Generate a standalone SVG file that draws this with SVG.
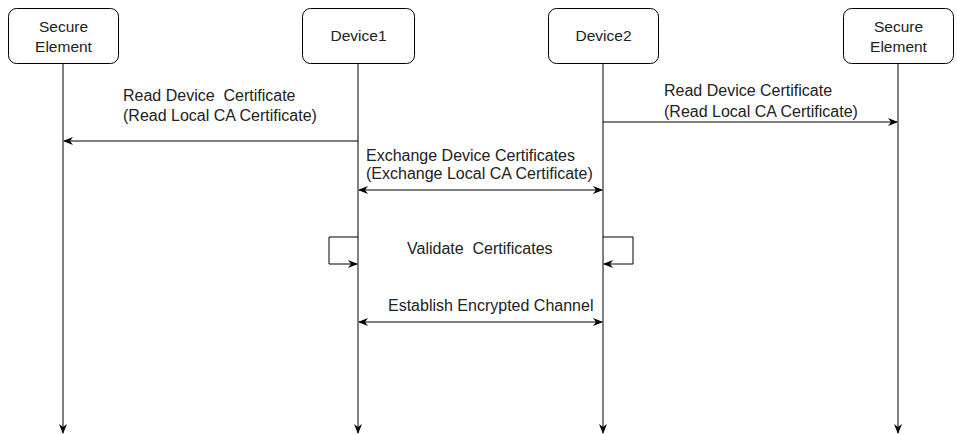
<svg xmlns="http://www.w3.org/2000/svg" width="957" height="435" viewBox="0 0 957 435">
<defs>
<marker id="arr" viewBox="0 0 10 8" refX="9" refY="4" markerWidth="10" markerHeight="8" markerUnits="userSpaceOnUse" orient="auto-start-reverse">
<path d="M0,0 L10,4 L0,8 L3,4 z" fill="#000"/>
</marker>
</defs>
<style>
.box{fill:#fff;stroke:#000;stroke-width:1}
.t{font-family:"Liberation Sans",Arial,sans-serif;font-size:16px;fill:#222}
.b{font-size:15.5px}
.c{text-anchor:middle}
.ln{fill:none;stroke:#000;stroke-width:1}
</style>
<rect width="957" height="435" fill="#fff"/>
<g id="connectors">
<line class="ln" x1="63" y1="63" x2="63" y2="433" marker-end="url(#arr)"/>
<line class="ln" x1="358" y1="63" x2="358" y2="433" marker-end="url(#arr)"/>
<line class="ln" x1="603" y1="63" x2="603" y2="433" marker-end="url(#arr)"/>
<line class="ln" x1="898" y1="63" x2="898" y2="433" marker-end="url(#arr)"/>
<line class="ln" x1="358" y1="141" x2="64" y2="141" marker-end="url(#arr)"/>
<line class="ln" x1="603" y1="122" x2="897" y2="122" marker-end="url(#arr)"/>
<line class="ln" x1="359" y1="190" x2="602" y2="190" marker-start="url(#arr)" marker-end="url(#arr)"/>
<polyline class="ln" points="358,237 329,237 329,264 357,264" marker-end="url(#arr)"/>
<polyline class="ln" points="603,237 633,237 633,264 604,264" marker-end="url(#arr)"/>
<line class="ln" x1="359" y1="322" x2="602" y2="322" marker-start="url(#arr)" marker-end="url(#arr)"/>
</g>
<g id="se1"><rect class="box" x="8.5" y="8.5" width="110" height="55" rx="8"/><text class="t b c" x="63.5" y="32">Secure</text><text class="t b c" x="63.5" y="52">Element</text></g>
<g id="device1"><rect class="box" x="302.5" y="8.5" width="112" height="55" rx="8"/><text class="t b c" x="358.5" y="41">Device1</text></g>
<g id="device2"><rect class="box" x="548.5" y="8.5" width="110" height="55" rx="8"/><text class="t b c" x="603.5" y="41">Device2</text></g>
<g id="se2"><rect class="box" x="843.5" y="8.5" width="110" height="55" rx="8"/><text class="t b c" x="898.5" y="32">Secure</text><text class="t b c" x="898.5" y="52">Element</text></g>
<g id="labels">
<text class="t" x="123" y="101" xml:space="preserve">Read Device  Certificate</text>
<text class="t" x="123" y="121">(Read Local CA Certificate)</text>
<text class="t" x="664" y="96">Read Device Certificate</text>
<text class="t" x="664" y="117">(Read Local CA Certificate)</text>
<text class="t" x="366" y="161">Exchange Device Certificates</text>
<text class="t" x="366" y="179">(Exchange Local CA Certificate)</text>
<text class="t" x="407" y="254" xml:space="preserve">Validate  Certificates</text>
<text class="t" x="388" y="311">Establish Encrypted Channel</text>
</g>
</svg>
